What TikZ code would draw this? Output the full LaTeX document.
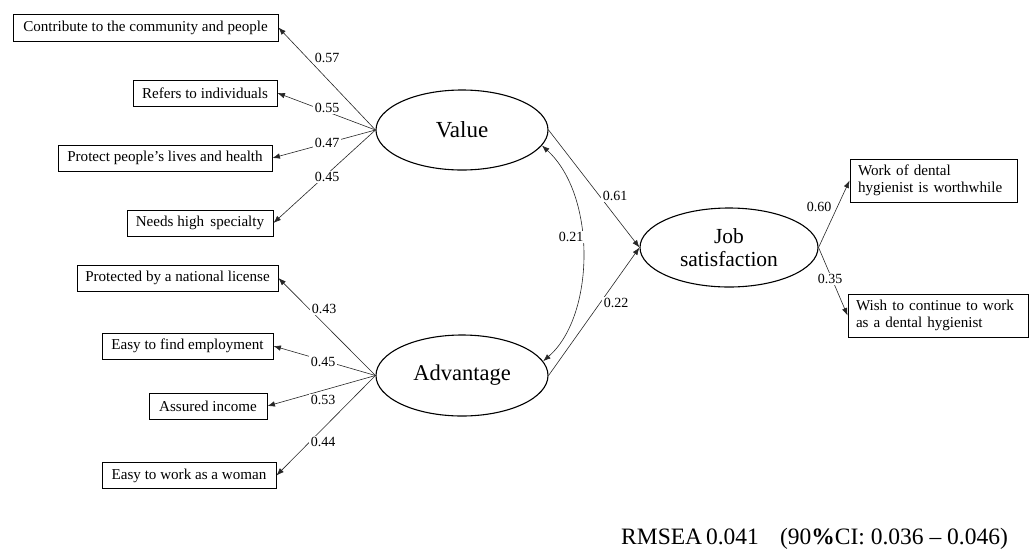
\documentclass[tikz,border=0pt]{standalone}
\usepackage{fontspec}
\setmainfont{Liberation Serif}
\usetikzlibrary{shapes.geometric,arrows.meta}
\begin{document}
\begin{tikzpicture}[x=1pt,y=-1pt,
 box/.style={draw, line width=0.9pt, minimum height=26pt, inner sep=2pt, font=\fontsize{15.1}{17}\selectfont},
 rbox/.style={draw, line width=0.9pt, minimum height=43pt, inner xsep=8pt, inner ysep=3pt, align=left, text width=#1, font=\fontsize{15.1}{17}\selectfont},
 lat/.style={draw, ellipse, line width=1.1pt, inner sep=0pt},
 lab/.style={fill=white, inner sep=1.5pt, font=\fontsize{14}{16}\selectfont},
 tip/.style={-{Latex[length=7.5pt,width=5.5pt]}},
 conn/.style={line width=0.6pt, draw=black!85},
]
\useasboundingbox (0,0) rectangle (1035,552);

% indicator boxes
\node[box, minimum width=265pt, minimum height=27pt] (b1) at (145.5,27.5) {Contribute to the community and people};
\node[box, minimum width=144pt] (b2) at (205,93) {Refers to individuals};
\node[box, minimum width=214pt] (b3) at (165,158) {Protect people's lives and health};
\node[box, minimum width=146pt] (b4) at (200,223) {Needs high\, specialty};
\node[box, minimum width=201pt] (b5) at (177.5,278) {Protected by a national license};
\node[box, minimum width=171pt] (b6) at (187.5,346) {Easy to find employment};
\node[box, minimum width=118pt] (b7) at (208,406) {Assured income};
\node[box, minimum width=174pt] (b8) at (189,475.5) {Easy to work as a woman};

\node[rbox=151pt] (r1) at (933.5,180.5) {Work of dental\\hygienist is worthwhile};
\node[rbox=164pt] (r2) at (938,315.5) {Wish to continue to work\\as a dental hygienist};

% latent variables
\node[lat, minimum width=172pt, minimum height=80pt, font=\fontsize{23}{25}\selectfont] (val) at (462,130) {Value};
\node[lat, minimum width=172pt, minimum height=81pt, font=\fontsize{22.5}{25}\selectfont] (adv) at (462,375.5) {Advantage};
\node[lat, minimum width=178pt, minimum height=79pt, align=center, font=\fontsize{21.5}{23.5}\selectfont] (job) at (729,247.5) {Job\\satisfaction};

% connectors
\draw[conn, tip] (val.west) -- (b1.east);
\draw[conn, tip] (val.west) -- (b2.east);
\draw[conn, tip] (val.west) -- (b3.east);
\draw[conn, tip] (val.west) -- (b4.east);
\draw[conn, tip] (adv.west) -- (b5.east);
\draw[conn, tip] (adv.west) -- (b6.east);
\draw[conn, tip] (adv.west) -- (b7.east);
\draw[conn, tip] (adv.west) -- (b8.east);
\draw[conn, tip] (val.east) -- (job.west);
\draw[conn, tip] (adv.east) -- (job.west);
\draw[conn, tip] (job.east) -- (r1.west);
\draw[conn, tip] (job.east) -- (r2.west);
\draw[conn, {Latex[length=7.5pt,width=5.5pt]}-{Latex[length=7.5pt,width=5.5pt]}] (val.-11) .. controls +(55,50) and +(52,-45) .. (adv.10);

% coefficient labels
\node[lab] (l57) at (327,58) {0.57};
\node[lab] (l55) at (327,108) {0.55};
\node[lab] (l47) at (327,143) {0.47};
\node[lab] (l45a) at (327,177) {0.45};
\node[lab] (l43) at (324,309) {0.43};
\node[lab] (l45b) at (323,362) {0.45};
\node[lab] (l53) at (323,400) {0.53};
\node[lab] (l44) at (323,442) {0.44};
\node[lab] (l61) at (615,196) {0.61};
\node[lab] (l22) at (616,303) {0.22};
\node[lab] (l21) at (571,237) {0.21};
\node[lab] (l60) at (819,207) {0.60};
\node[lab] (l35) at (830,279) {0.35};

% fit index
\node[anchor=west, inner sep=0pt, font=\fontsize{23.5}{26}\selectfont] (fit) at (621,539) {RMSEA\,0.041\hspace{0.9em}(90{\bfseries\%}CI: 0.036 -- 0.046)};
\end{tikzpicture}
\end{document}
